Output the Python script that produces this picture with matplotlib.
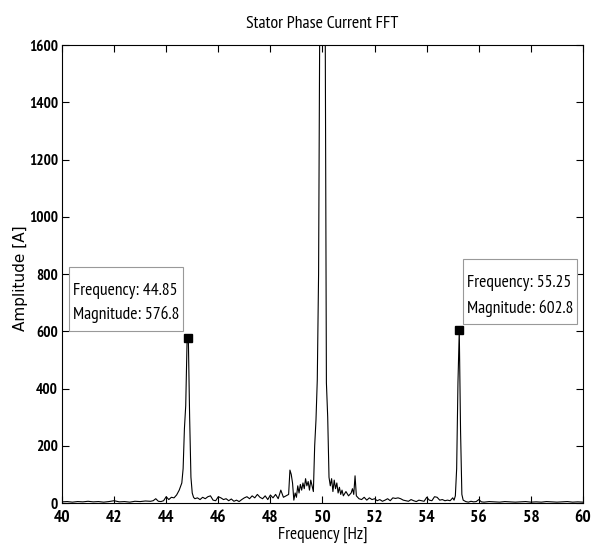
import matplotlib
matplotlib.use("Agg")
import matplotlib.pyplot as plt
from matplotlib.patches import Rectangle

narrow = ["PT Sans Narrow", "Roboto Condensed", "DejaVu Sans"]

freq_hz = [40.0, 40.2, 40.4, 40.6, 40.8, 41.0, 41.2, 41.4, 41.6, 41.8, 42.0, 42.2, 42.4, 42.6, 42.8,
           43.0, 43.2, 43.4, 43.5, 43.6, 43.7, 43.8, 43.9, 44.0, 44.1, 44.2, 44.3, 44.4, 44.5, 44.6,
           44.65, 44.7, 44.75, 44.8, 44.85, 44.9, 44.95, 45.0, 45.05, 45.1, 45.2, 45.3, 45.4, 45.5,
           45.6, 45.7, 45.8, 45.9, 46.0, 46.1, 46.2, 46.3, 46.4, 46.5, 46.6, 46.7, 46.8, 46.9, 47.0,
           47.1, 47.2, 47.3, 47.4, 47.5, 47.6, 47.7, 47.8, 47.9, 48.0, 48.1, 48.2, 48.3, 48.4, 48.5,
           48.6, 48.7, 48.75, 48.8, 48.85, 48.9, 48.95, 49.0, 49.05, 49.1, 49.15, 49.2, 49.25, 49.3,
           49.35, 49.4, 49.45, 49.5, 49.55, 49.6, 49.65, 49.7, 49.75, 49.8, 49.85, 49.9, 49.95, 50.0,
           50.05, 50.1, 50.15, 50.2, 50.25, 50.3, 50.35, 50.4, 50.45, 50.5, 50.55, 50.6, 50.65, 50.7,
           50.75, 50.8, 50.9, 51.0, 51.1, 51.15, 51.2, 51.25, 51.3, 51.4, 51.5, 51.6, 51.7, 51.8, 51.9,
           52.0, 52.1, 52.2, 52.3, 52.4, 52.5, 52.6, 52.7, 52.8, 52.9, 53.0, 53.1, 53.2, 53.3, 53.4,
           53.5, 53.6, 53.7, 53.8, 53.9, 54.0, 54.1, 54.2, 54.3, 54.4, 54.5, 54.6, 54.7, 54.8, 54.9,
           55.0, 55.05, 55.1, 55.15, 55.2, 55.25, 55.3, 55.35, 55.4, 55.5, 55.6, 55.7, 55.8, 55.9,
           56.0, 56.1, 56.2, 56.4, 56.6, 56.8, 57.0, 57.2, 57.4, 57.6, 57.8, 58.0, 58.2, 58.4, 58.6,
           58.8, 59.0, 59.2, 59.4, 59.6, 59.8, 60.0]
amplitude_a = [4, 5, 3, 5, 4, 6, 4, 5, 3, 5, 8, 4, 5, 3, 6,
               5, 7, 6, 8, 15, 6, 5, 8, 22, 12, 20, 18, 28, 45, 70,
               120, 260, 340, 560, 576.8, 300, 90, 35, 20, 15, 18, 12, 20, 15,
               22, 25, 10, 8, 22, 18, 12, 15, 8, 14, 6, 10, 5, 12, 18,
               22, 15, 25, 18, 30, 20, 15, 25, 12, 28, 18, 30, 15, 45, 20,
               25, 30, 115, 100, 70, 10, 35, 20, 60, 35, 65, 45, 70, 50,
               85, 60, 75, 45, 80, 60, 40, 200, 290, 430, 800, 1800, 3500, 4500,
               3500, 1800, 420, 300, 90, 60, 85, 40, 80, 50, 70, 35, 55, 30,
               45, 25, 40, 25, 35, 50, 30, 95, 25, 15, 12, 20, 10, 18, 12,
               15, 8, 12, 6, 10, 15, 8, 18, 16, 18, 15, 10, 8, 6, 12,
               8, 5, 10, 8, 6, 20, 10, 8, 22, 20, 10, 12, 8, 10, 8,
               18, 10, 25, 120, 420, 602.8, 250, 30, 10, 5, 3, 6, 4, 5,
               12, 4, 3, 5, 4, 3, 5, 4, 3, 4, 5, 3, 4, 3, 5,
               4, 3, 4, 5, 3, 4, 3]

cursor_freq = [44.85, 55.25]
cursor_mag = [576.8, 602.8]

x_ticks = [40, 42, 44, 46, 48, 50, 52, 54, 56, 58, 60]
y_ticks = [0, 200, 400, 600, 800, 1000, 1200, 1400, 1600]

fig = plt.figure(figsize=(5.92, 5.53), dpi=100)
ax = fig.add_axes([0.1047, 0.0904, 0.8801, 0.8282])

ax.plot(freq_hz, amplitude_a, color="black", linewidth=0.8)
ax.plot(cursor_freq, cursor_mag, linestyle="none", marker="s", markersize=5.5,
        color="black", zorder=4)

ax.set_xlim(40, 60)
ax.set_ylim(0, 1600)
ax.set_xticks(x_ticks)
ax.set_yticks(y_ticks)
ax.tick_params(direction="in", top=True, right=True, length=5, width=0.8)
ax.tick_params(axis="x", pad=5)
ax.tick_params(axis="y", pad=3)
for s in ax.spines.values():
    s.set_linewidth(0.8)
for lab in ax.get_xticklabels():
    lab.set_fontfamily(narrow)
    lab.set_fontsize(12.5)
    lab.set_fontweight("bold")
for lab in ax.get_yticklabels():
    lab.set_fontfamily(narrow)
    lab.set_fontsize(11)
    lab.set_fontweight("bold")

ax.set_title("Stator Phase Current FFT", fontfamily=narrow, fontsize=12.8, pad=12)
ax.set_xlabel("Frequency [Hz]", fontfamily=narrow, fontsize=12.5, labelpad=1)
ax.set_ylabel("Amplitude [A]", fontfamily="DejaVu Sans", fontsize=11)
ax.yaxis.set_label_coords(-0.066, 0.49)

# data-cursor tooltip boxes: (left, bottom, width, height) in data units
boxes = [(40.27, 601, 4.375, 224), (55.39, 626, 4.375, 227)]
text_x = [40.42, 55.53]
line1_y = [727, 756]
line2_y = [643, 664]
for (bx, by, bw, bh), tx, y1, y2, f, m in zip(boxes, text_x, line1_y, line2_y,
                                               cursor_freq, cursor_mag):
    ax.add_patch(Rectangle((bx, by), bw, bh, facecolor="white",
                           edgecolor="#999999", linewidth=0.8, zorder=5))
    ax.text(tx, y1, f"Frequency: {f:.2f}", fontfamily=narrow, fontsize=12.6,
            va="baseline", ha="left", zorder=6)
    ax.text(tx, y2, f"Magnitude: {m:.1f}", fontfamily=narrow, fontsize=12.6,
            va="baseline", ha="left", zorder=6)

fig.savefig("out.png", dpi=100)
